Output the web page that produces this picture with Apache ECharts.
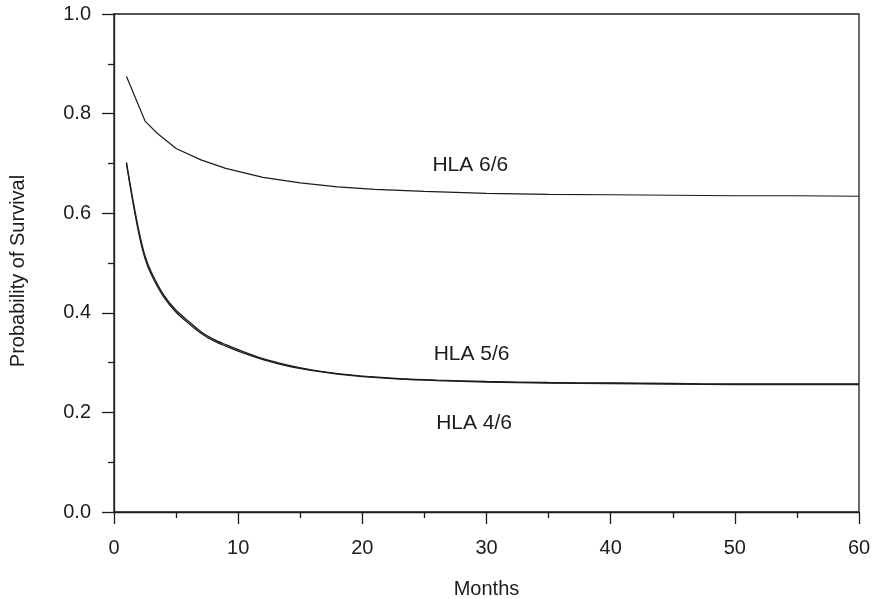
<!DOCTYPE html>
<html>
<head>
<meta charset="UTF-8">
<title>HLA survival</title>
<script src="https://cdn.jsdelivr.net/npm/echarts@6/dist/echarts.min.js"></script>
<style>
  html, body { margin: 0; padding: 0; background: #fff; }
  #main { width: 875px; height: 599px; }
</style>
</head>
<body>
<div id="main"></div>
<script>
// survival curves
var months66 = [1, 2.5, 3.5, 5, 7, 9, 12, 15, 18, 21, 25, 30, 35, 40, 45, 50, 55, 60];
var hla66 = [0.875, 0.785, 0.760, 0.730, 0.707, 0.690, 0.672, 0.661, 0.653, 0.648, 0.644, 0.640, 0.638, 0.637, 0.636, 0.635, 0.635, 0.634];

var months = [1, 1.5, 2, 2.5, 3, 4, 5, 6, 7, 8, 9, 10, 12, 14, 16, 18, 20, 23, 26, 30, 35, 40, 45, 50, 55, 60];
var hla56 = [0.702, 0.630, 0.565, 0.514, 0.482, 0.436, 0.405, 0.383, 0.362, 0.347, 0.336, 0.326, 0.308, 0.295, 0.285, 0.278, 0.273, 0.268, 0.265, 0.262, 0.260, 0.259, 0.258, 0.257, 0.257, 0.257];
var hla46 = [0.700, 0.625, 0.559, 0.509, 0.477, 0.432, 0.401, 0.379, 0.359, 0.344, 0.333, 0.323, 0.306, 0.293, 0.284, 0.277, 0.272, 0.267, 0.264, 0.261, 0.259, 0.258, 0.257, 0.256, 0.256, 0.256];

// curve labels (data coords)
var labelText = ['HLA 6/6', 'HLA 5/6', 'HLA 4/6'];
var labelX = [28.7, 28.8, 29.0];
var labelY = [0.696, 0.316, 0.179];

var ink = '#1e1b1c';
var font = '"Liberation Sans", Arial, Helvetica, sans-serif';

function pairs(xs, ys) {
  var out = [];
  for (var i = 0; i < xs.length; i++) out.push([xs[i], ys[i]]);
  return out;
}

var labelData = [];
for (var i = 0; i < labelText.length; i++) {
  labelData.push({ value: [labelX[i], labelY[i]], name: labelText[i] });
}

var chart = echarts.init(document.getElementById('main'));

var option = {
  animation: false,
  backgroundColor: '#fff',
  textStyle: { fontFamily: font, color: ink },
  grid: {
    left: 114, top: 14, width: 745, height: 498,
    containLabel: false, outerBoundsMode: 'none',
    show: true, borderColor: ink, borderWidth: 1.3
  },
  xAxis: {
    type: 'value', min: 0, max: 60, interval: 10,
    name: 'Months', nameLocation: 'middle', nameGap: 67,
    nameTextStyle: { fontSize: 20, color: ink, fontFamily: font },
    axisLine: { show: true, lineStyle: { color: ink, width: 1.3 } },
    axisTick: { show: true, inside: false, length: 12, lineStyle: { color: ink, width: 1.3 } },
    minorTick: { show: true, splitNumber: 2, length: 6, lineStyle: { color: ink, width: 1.3 } },
    axisLabel: { fontSize: 20, color: ink, margin: 26, fontFamily: font },
    splitLine: { show: false }
  },
  yAxis: {
    type: 'value', min: 0, max: 1, interval: 0.2,
    axisLine: { show: true, lineStyle: { color: ink, width: 1.3 } },
    axisTick: { show: true, inside: false, length: 12, lineStyle: { color: ink, width: 1.3 } },
    minorTick: { show: true, splitNumber: 2, length: 6, lineStyle: { color: ink, width: 1.3 } },
    axisLabel: {
      fontSize: 20, color: ink, margin: 23, fontFamily: font,
      formatter: function (v) { return v.toFixed(1); }
    },
    splitLine: { show: false }
  },
  graphic: [{
    type: 'text', x: 18, y: 271, rotation: Math.PI / 2,
    style: {
      text: 'Probability of Survival', fontSize: 20, fontFamily: font,
      fill: ink, align: 'center', verticalAlign: 'middle'
    }
  }],
  series: [
    {
      name: 'HLA 6/6', type: 'line', data: pairs(months66, hla66),
      showSymbol: false, lineStyle: { color: ink, width: 1.2 }
    },
    {
      name: 'HLA 5/6', type: 'line', data: pairs(months, hla56),
      showSymbol: false, smooth: 0.3, lineStyle: { color: ink, width: 1.3 }
    },
    {
      name: 'HLA 4/6', type: 'line', data: pairs(months, hla46),
      showSymbol: false, smooth: 0.3, lineStyle: { color: ink, width: 1.3 }
    },
    {
      name: 'labels', type: 'scatter', data: labelData,
      symbolSize: 0, silent: true,
      itemStyle: { opacity: 1, color: ink },
      label: {
        show: true, position: 'inside', formatter: '{b}', opacity: 1,
        fontSize: 21, color: ink, fontFamily: font, textBorderWidth: 0
      }
    }
  ]
};

chart.setOption(option);
</script>
</body>
</html>
